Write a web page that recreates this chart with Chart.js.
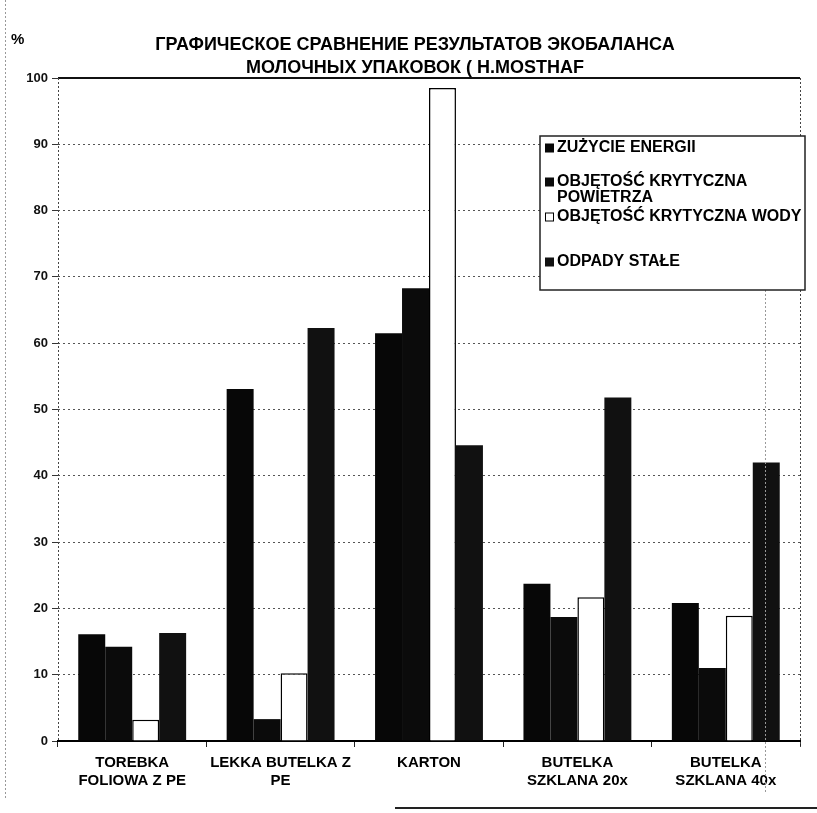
<!DOCTYPE html>
<html>
<head>
<meta charset="utf-8">
<script src="https://cdn.jsdelivr.net/npm/chart.js@4.4.1/dist/chart.umd.min.js"></script>
<style>
  html, body { margin: 0; padding: 0; background: #fff; }
  #wrap { width: 817px; height: 813px; position: relative; }
</style>
</head>
<body>
<div id="wrap"><canvas id="c" width="817" height="813"></canvas></div>
<script>
// Packaging types (multi-line axis labels)
const categories = [
  ['TOREBKA', 'FOLIOWA Z PE'],
  ['LEKKA BUTELKA Z', 'PE'],
  ['KARTON'],
  ['BUTELKA', 'SZKLANA 20x'],
  ['BUTELKA', 'SZKLANA 40x']
];

// Series values, % relative to the worst package
const zuzycieEnergii = [16.1, 53.1, 61.5, 23.7, 20.8];
const objetoscPowietrza = [14.2, 3.3, 68.3, 18.7, 11.0];
const objetoscWody = [3.2, 10.2, 98.5, 21.7, 18.9];
const odpadyStale = [16.3, 62.3, 44.6, 51.8, 42.0];

// Legend text, split into the lines it is printed on
const seriesLines = [
  ['ZUŻYCIE ENERGII'],
  ['OBJĘTOŚĆ KRYTYCZNA', 'POWIETRZA'],
  ['OBJĘTOŚĆ KRYTYCZNA WODY'],
  ['ODPADY STAŁE']
];

const yTicks = [0, 10, 20, 30, 40, 50, 60, 70, 80, 90, 100];

const titleLines = [
  'ГРАФИЧЕСКОЕ СРАВНЕНИЕ РЕЗУЛЬТАТОВ ЭКОБАЛАНСА',
  'МОЛОЧНЫХ УПАКОВОК ( H.MOSTHAF'
];
const unitLabel = '%';

const FONT = '"Liberation Sans", Arial, sans-serif';

// Title, unit sign, plot frame and the boxed legend
const decorations = {
  id: 'decorations',
  afterDraw(chart) {
    const ctx = chart.ctx;
    const a = chart.chartArea;
    const cx = (a.left + a.right) / 2;
    ctx.save();

    // plot frame: solid top edge, dotted left and right edges
    ctx.strokeStyle = '#111';
    ctx.lineWidth = 2;
    ctx.beginPath();
    ctx.moveTo(a.left, a.top);
    ctx.lineTo(a.right, a.top);
    ctx.stroke();

    ctx.lineWidth = 1;
    ctx.strokeStyle = '#444';
    ctx.setLineDash([2, 2]);
    ctx.beginPath();
    ctx.moveTo(a.left + 0.5, a.top);
    ctx.lineTo(a.left + 0.5, a.bottom);
    ctx.moveTo(a.right + 0.5, a.top);
    ctx.lineTo(a.right + 0.5, a.bottom + 6);
    ctx.stroke();

    // faint page edges
    ctx.strokeStyle = '#999';
    ctx.beginPath();
    ctx.moveTo(5.5, 0);
    ctx.lineTo(5.5, 800);
    ctx.moveTo(a.right - 34.5, a.top + 212);
    ctx.lineTo(a.right - 34.5, a.bottom + 52);
    ctx.stroke();
    ctx.setLineDash([]);
    ctx.strokeStyle = '#222';
    ctx.lineWidth = 2;
    ctx.beginPath();
    ctx.moveTo(395, 808);
    ctx.lineTo(817, 808);
    ctx.stroke();

    // title
    ctx.fillStyle = '#000';
    ctx.font = 'bold 18px ' + FONT;
    ctx.textAlign = 'center';
    ctx.textBaseline = 'middle';
    ctx.fillText(titleLines[0], cx - 14, 45);
    ctx.fillText(titleLines[1], cx - 14, 68);

    // unit sign above the value axis
    ctx.font = 'bold 15px ' + FONT;
    ctx.textAlign = 'left';
    ctx.fillText(unitLabel, 11, 40);

    // legend box
    const bx = a.left + 482, by = a.top + 58, bw = 265, bh = 154;
    ctx.fillStyle = '#fff';
    ctx.fillRect(bx, by, bw, bh);
    ctx.strokeStyle = '#222';
    ctx.lineWidth = 1.5;
    ctx.strokeRect(bx, by, bw, bh);

    const rowY = [12, 46, 81, 126];
    ctx.font = 'bold 16px ' + FONT;
    ctx.textBaseline = 'middle';
    chart.data.datasets.forEach((ds, i) => {
      const y0 = by + rowY[i];
      ctx.fillStyle = ds.backgroundColor;
      ctx.fillRect(bx + 5, y0 - 4.5, 9, 9);
      if (ds.borderWidth) {
        ctx.strokeStyle = '#000';
        ctx.lineWidth = 1;
        ctx.strokeRect(bx + 5.5, y0 - 4, 8, 8);
      }
      ctx.fillStyle = '#000';
      seriesLines[i].forEach((line, j) => {
        ctx.fillText(line, bx + 17, y0 + j * 16);
      });
    });
    ctx.restore();
  }
};

const mkSet = (i, data, color, border) => ({
  label: seriesLines[i].join(' '),
  data: data,
  backgroundColor: color,
  borderColor: '#000',
  borderWidth: border,
  categoryPercentage: 0.727,
  barPercentage: 1.0
});

new Chart(document.getElementById('c'), {
  type: 'bar',
  data: {
    labels: categories,
    datasets: [
      mkSet(0, zuzycieEnergii, '#070707', 0),
      mkSet(1, objetoscPowietrza, '#0b0b0b', 0),
      mkSet(2, objetoscWody, '#ffffff', 1.5),
      mkSet(3, odpadyStale, '#111111', 0)
    ]
  },
  options: {
    responsive: false,
    animation: false,
    layout: { padding: { top: 78, right: 17, bottom: 0, left: 0 } },
    plugins: {
      legend: { display: false },
      title: { display: false },
      tooltip: { enabled: false }
    },
    scales: {
      x: {
        grid: { display: true, drawOnChartArea: false, drawTicks: true, tickLength: 6, tickColor: '#222', offset: true },
        border: { display: true, color: '#000', width: 2 },
        ticks: {
          color: '#000',
          font: { family: FONT, size: 15, weight: 'bold', lineHeight: 1.2 },
          padding: 7,
          maxRotation: 0,
          autoSkip: false
        },
        afterFit(s) { s.height = 72; }
      },
      y: {
        min: 0,
        max: 100,
        afterBuildTicks(s) { s.ticks = yTicks.map(v => ({ value: v })); },
        grid: { color: '#555', lineWidth: 1, tickLength: 6, tickColor: '#333', tickBorderDash: [] },
        border: { display: false, dash: [2, 3] },
        ticks: {
          color: '#111',
          font: { family: FONT, size: 13, weight: 'bold' },
          padding: 4
        },
        afterFit(s) { s.width = 58; }
      }
    }
  },
  plugins: [decorations]
});
</script>
</body>
</html>
